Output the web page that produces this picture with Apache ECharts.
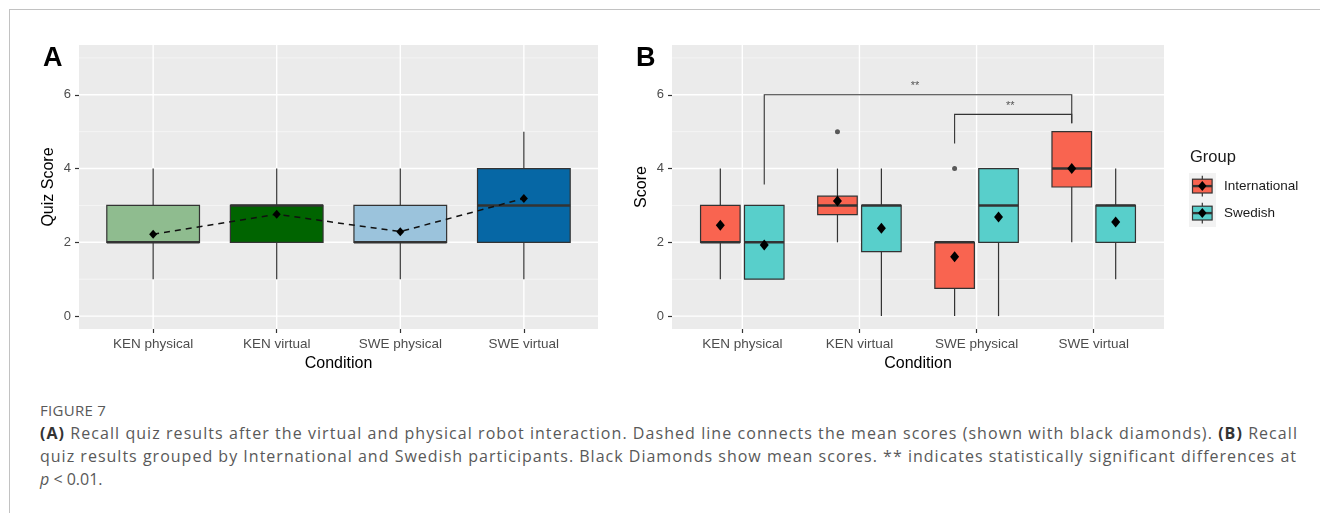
<!DOCTYPE html>
<html><head><meta charset="utf-8">
<script src="https://cdn.jsdelivr.net/npm/echarts@6/dist/echarts.min.js"></script>
<style>
html,body{margin:0;padding:0;background:#fff;width:1320px;height:513px;overflow:hidden;}
#frame{position:absolute;left:9px;top:9px;width:1311px;height:504px;border-top:1px solid #c2c2c2;border-left:1px solid #c2c2c2;box-sizing:border-box;}
#chart{position:absolute;left:0;top:0;width:1320px;height:395px;}
#cap{position:absolute;left:40px;top:398px;font-family:'Open Sans',sans-serif;color:#595959;}
#cap .fig{font-size:15px;line-height:24px;height:24px;letter-spacing:0.3px;}
#cap .ln{font-size:16px;line-height:23px;height:23px;white-space:nowrap;}
#cap .ln span{display:inline-block;}
#cap b{color:#333;}
</style></head><body>
<div id="frame"></div>
<div id="chart"></div>
<div id="cap">
<div class="fig">FIGURE 7</div>
<div class="ln"><span data-w="1258"><b>(A)</b> Recall quiz results after the virtual and physical robot interaction. Dashed line connects the mean scores (shown with black diamonds). <b>(B)</b> Recall</span></div>
<div class="ln"><span data-w="1257">quiz results grouped by International and Swedish participants. Black Diamonds show mean scores. ** indicates statistically significant differences at</span></div>
<div class="ln"><span><i>p</i> &lt; 0.01.</span></div>
</div>
<script>
// ---------- data ----------
const categories = ['KEN physical', 'KEN virtual', 'SWE physical', 'SWE virtual'];
const yTickValues = [0, 2, 4, 6];
const yGridValues = [0, 1, 2, 3, 4, 5, 6, 7];
// Panel A: [min, q1, median, q3, max] per condition
const statsA = [[1, 2, 2, 3, 4], [1, 2, 3, 3, 4], [1, 2, 2, 3, 4], [1, 2, 3, 4, 5]];
const meansA = [2.22, 2.76, 2.29, 3.19];
// Panel B
const groups = ['International', 'Swedish'];
const statsInternational = [[1, 2, 2, 3, 4], [2, 2.75, 3, 3.25, 4], [0, 0.75, 2, 2, 2], [2, 3.5, 4, 5, 5]];
const meansInternational = [2.46, 3.12, 1.61, 4.0];
const outliersInternational = [[2, 5], [3, 4]]; // [condition number, value]
const statsSwedish = [[1, 1, 2, 3, 3], [0, 1.75, 3, 3, 4], [0, 2, 3, 4, 4], [1, 2, 3, 3, 4]];
const meansSwedish = [1.93, 2.38, 2.69, 2.55];
const outliersSwedish = [];
// significance brackets: [left condition, left group, right condition, right group, top y, left end y, right end y]
const brackets = [[1, 'Swedish', 4, 'International', 6.0, 3.57, 5.23], [3, 'International', 4, 'International', 5.47, 4.68, 5.23]];
const bracketLabels = ['**', '**'];

// caption fitting (letter spacing only)
document.querySelectorAll('#cap span[data-w]').forEach(function (s) {
  const target = parseFloat(s.getAttribute('data-w'));
  const w = s.getBoundingClientRect().width;
  const n = s.textContent.length;
  s.style.letterSpacing = ((target - w) / n) + 'px';
});

// ---------- styles ----------
const fillsA = ['#8FBC8F', '#006400', '#9BC3DC', '#0667A5'];
const groupFills = {International: '#F96450', Swedish: '#58CFCB'};
const FONT = 'Liberation Sans';
const STROKE = '#333333';
const dodge = {International: -0.1875, Swedish: 0.1875};

function boxRender(halfW, offset, fills, diamond) {
  return function (params, api) {
    const x = api.value(0) + offset;
    const mn = api.value(1), q1 = api.value(2), md = api.value(3), q3 = api.value(4), mx = api.value(5), mean = api.value(6);
    const tl = api.coord([x - halfW, q3]);
    const br = api.coord([x + halfW, q1]);
    const cMed = api.coord([x, md]);
    const cMin = api.coord([x, mn]), cMax = api.coord([x, mx]), cQ1 = api.coord([x, q1]), cQ3 = api.coord([x, q3]);
    const fill = Array.isArray(fills) ? fills[params.dataIndex] : fills;
    const ch = [];
    if (mx > q3) ch.push({type: 'line', shape: {x1: cMax[0], y1: cMax[1], x2: cQ3[0], y2: cQ3[1]}, style: {stroke: STROKE, lineWidth: 1.2}});
    if (mn < q1) ch.push({type: 'line', shape: {x1: cMin[0], y1: cMin[1], x2: cQ1[0], y2: cQ1[1]}, style: {stroke: STROKE, lineWidth: 1.2}});
    ch.push({type: 'rect', shape: {x: tl[0], y: tl[1], width: br[0] - tl[0], height: br[1] - tl[1]}, style: {fill: fill, stroke: STROKE, lineWidth: 1.2}});
    ch.push({type: 'line', shape: {x1: tl[0], y1: cMed[1], x2: br[0], y2: cMed[1]}, style: {stroke: STROKE, lineWidth: 2.6}});
    if (diamond) {
      const m = api.coord([x, mean]);
      ch.push({type: 'polygon', shape: {points: [[m[0], m[1] - 5.5], [m[0] + 4.5, m[1]], [m[0], m[1] + 5.5], [m[0] - 4.5, m[1]]]}, style: {fill: '#000'}});
    }
    return {type: 'group', children: ch};
  };
}
function hGridRender(params, api) {
  const cs = params.coordSys;
  const v = api.value(1);
  const p = api.coord([1, v]);
  const major = v % 2 === 0;
  return {type: 'line', silent: true, shape: {x1: cs.x, y1: p[1], x2: cs.x + cs.width, y2: p[1]},
    style: {stroke: major ? '#FFFFFF' : '#F7F7F7', lineWidth: major ? 1.4 : 0.8}};
}
function vGridRender(params, api) {
  const cs = params.coordSys;
  const p = api.coord([api.value(0), 0]);
  return {type: 'line', silent: true, shape: {x1: p[0], y1: cs.y, x2: p[0], y2: cs.y + cs.height},
    style: {stroke: '#FFFFFF', lineWidth: 1.4}};
}
function bracketRender(params, api) {
  const x1 = api.value(0), x2 = api.value(1), top = api.value(2), le = api.value(3), re = api.value(4);
  const a = api.coord([x1, le]), b = api.coord([x1, top]), c = api.coord([x2, top]), d = api.coord([x2, re]);
  return {type: 'group', children: [
    {type: 'polyline', shape: {points: [a, b, c, d]}, style: {stroke: STROKE, lineWidth: 1.1, fill: null}},
    {type: 'text', style: {text: bracketLabels[params.dataIndex], x: (b[0] + c[0]) / 2 - 3, y: b[1] - 3,
      align: 'center', verticalAlign: 'bottom', fill: '#555', font: '11px ' + FONT}}
  ]};
}

const rowsA = statsA.map((s, i) => [i + 1].concat(s, [meansA[i]]));
const rowsInt = statsInternational.map((s, i) => [i + 1].concat(s, [meansInternational[i]]));
const rowsSwe = statsSwedish.map((s, i) => [i + 1].concat(s, [meansSwedish[i]]));
const hGridData = yGridValues.map(v => [1, v]);
const vGridData = categories.map((c, i) => [i + 1, 0]);
const bracketData = brackets.map(b => [b[0] + dodge[b[1]], b[2] + dodge[b[3]], b[4], b[5], b[6]]);
const outlierData = outliersInternational.map(o => [o[0] + dodge.International, o[1]])
  .concat(outliersSwedish.map(o => [o[0] + dodge.Swedish, o[1]]));

function keyIcon(fill) {
  const svg = "<svg xmlns='http://www.w3.org/2000/svg' width='27' height='27'>" +
    "<rect width='27' height='27' fill='#F2F2F2'/>" +
    "<line x1='13.3' y1='2.7' x2='13.3' y2='23.6' stroke='#333' stroke-width='1.2'/>" +
    "<rect x='3.5' y='6.2' width='19.6' height='13.8' fill='" + fill + "' stroke='#333' stroke-width='1.2'/>" +
    "<line x1='3.5' y1='13.1' x2='23.1' y2='13.1' stroke='#333' stroke-width='2.4'/>" +
    "<polygon points='13.3,8.1 17.5,13.1 13.3,18.1 9.1,13.1' fill='#000'/></svg>";
  return 'image://data:image/svg+xml;charset=utf-8,' + encodeURIComponent(svg);
}

function xAxisCfg(idx) {
  return {
    type: 'value', gridIndex: idx, min: 0.4, max: 4.6,
    name: 'Condition', nameLocation: 'middle', nameGap: 25,
    nameTextStyle: {fontFamily: FONT, fontSize: 16, color: '#000'},
    axisLine: {show: false, onZero: false}, splitLine: {show: false},
    axisTick: {show: true, length: 4, customValues: [1, 2, 3, 4], lineStyle: {color: STROKE, width: 1.2}},
    axisLabel: {customValues: [1, 2, 3, 4], margin: 8, fontFamily: FONT, fontSize: 13.5, color: '#4D4D4D',
      formatter: v => categories[Math.round(v) - 1]}
  };
}
function yAxisCfg(idx, name) {
  return {
    type: 'value', gridIndex: idx, min: -0.35, max: 7.35,
    name: name, nameLocation: 'middle', nameGap: 22, nameRotate: 90,
    nameTextStyle: {fontFamily: FONT, fontSize: 16, color: '#000'},
    axisLine: {show: false, onZero: false}, splitLine: {show: false},
    axisTick: {show: true, length: 4, customValues: yTickValues, lineStyle: {color: STROKE, width: 1.2}},
    axisLabel: {customValues: yTickValues, margin: 8, fontFamily: FONT, fontSize: 13, color: '#4D4D4D'}
  };
}

const chart = echarts.init(document.getElementById('chart'), null, {renderer: 'canvas'});
chart.setOption({
  animation: false,
  grid: [
    {left: 79, top: 45, width: 519, height: 284, show: true, backgroundColor: '#EBEBEB', borderWidth: 0},
    {left: 672, top: 45, width: 492, height: 284, show: true, backgroundColor: '#EBEBEB', borderWidth: 0}
  ],
  xAxis: [xAxisCfg(0), xAxisCfg(1)],
  yAxis: [yAxisCfg(0, 'Quiz Score'), yAxisCfg(1, 'Score')],
  legend: {
    data: [{name: 'International', icon: keyIcon(groupFills.International)}, {name: 'Swedish', icon: keyIcon(groupFills.Swedish)}],
    orient: 'vertical', left: 1189, top: 173, padding: 0, itemWidth: 27, itemHeight: 27, itemGap: 0,
    selectedMode: false,
    textStyle: {fontFamily: FONT, fontSize: 13.5, color: '#1a1a1a', padding: [0, 0, 0, 3]}
  },
  graphic: [
    {type: 'text', left: 43, top: 45, style: {text: 'A', font: 'bold 27px ' + FONT, fill: '#000'}},
    {type: 'text', left: 636, top: 45, style: {text: 'B', font: 'bold 27px ' + FONT, fill: '#000'}},
    {type: 'text', left: 1190, top: 149, style: {text: 'Group', font: '16.5px ' + FONT, fill: '#1a1a1a'}}
  ],
  series: [
    {type: 'custom', xAxisIndex: 0, yAxisIndex: 0, silent: true, z: 1, renderItem: hGridRender, data: hGridData, encode: {x: 0, y: 1}},
    {type: 'custom', xAxisIndex: 0, yAxisIndex: 0, silent: true, z: 1, renderItem: vGridRender, data: vGridData, encode: {x: 0, y: 1}},
    {type: 'custom', xAxisIndex: 1, yAxisIndex: 1, silent: true, z: 1, renderItem: hGridRender, data: hGridData, encode: {x: 0, y: 1}},
    {type: 'custom', xAxisIndex: 1, yAxisIndex: 1, silent: true, z: 1, renderItem: vGridRender, data: vGridData, encode: {x: 0, y: 1}},
    {type: 'custom', name: 'A boxes', xAxisIndex: 0, yAxisIndex: 0, z: 3, renderItem: boxRender(0.375, 0, fillsA, false),
      data: rowsA, encode: {x: 0, y: [1, 2, 3, 4, 5]}},
    {type: 'line', name: 'A means', xAxisIndex: 0, yAxisIndex: 0, z: 5,
      data: meansA.map((m, i) => [i + 1, m]),
      symbol: 'diamond', symbolSize: [8, 9], itemStyle: {color: '#000'},
      lineStyle: {type: [6, 5], color: '#111', width: 1.5}},
    {type: 'custom', name: 'International', xAxisIndex: 1, yAxisIndex: 1, z: 3,
      renderItem: boxRender(0.16875, dodge.International, groupFills.International, true),
      itemStyle: {color: groupFills.International},
      data: rowsInt, encode: {x: 0, y: [1, 2, 3, 4, 5]}},
    {type: 'custom', name: 'Swedish', xAxisIndex: 1, yAxisIndex: 1, z: 3,
      renderItem: boxRender(0.16875, dodge.Swedish, groupFills.Swedish, true),
      itemStyle: {color: groupFills.Swedish},
      data: rowsSwe, encode: {x: 0, y: [1, 2, 3, 4, 5]}},
    {type: 'scatter', name: 'outliers', xAxisIndex: 1, yAxisIndex: 1, z: 4, symbolSize: 5,
      itemStyle: {color: '#333'}, data: outlierData},
    {type: 'custom', name: 'brackets', xAxisIndex: 1, yAxisIndex: 1, z: 4, silent: true,
      renderItem: bracketRender, data: bracketData, encode: {x: [0, 1], y: [2, 3, 4]}}
  ]
});
</script>
</body></html>
